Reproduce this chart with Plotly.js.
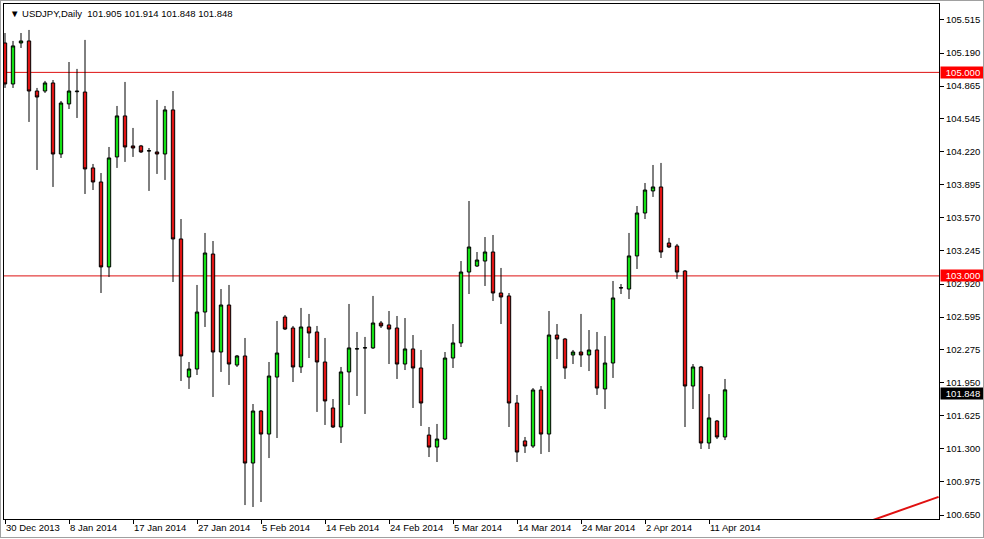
<!DOCTYPE html>
<html>
<head>
<meta charset="utf-8">
<script src="https://cdn.plot.ly/plotly-3.0.1.min.js"></script>
<style>
html,body{margin:0;padding:0;background:#fff;}
#wrap{position:relative;width:984px;height:539px;overflow:hidden;}
#chart{width:984px;height:539px;}
#frame{position:absolute;left:0;top:0;width:984px;height:538px;box-sizing:border-box;border:1px solid #a0a0a0;pointer-events:none;}
</style>
</head>
<body>
<div id="wrap"><div id="chart"></div><div id="frame"></div></div>
<script>
// USDJPY daily bars (MT4 broker with Sunday bars)
const dates = [
"2013-12-30","2013-12-31","2014-01-01","2014-01-02","2014-01-03","2014-01-05","2014-01-06","2014-01-07","2014-01-08","2014-01-09",
"2014-01-10","2014-01-12","2014-01-13","2014-01-14","2014-01-15","2014-01-16","2014-01-17","2014-01-19","2014-01-20","2014-01-21",
"2014-01-22","2014-01-23","2014-01-24","2014-01-26","2014-01-27","2014-01-28","2014-01-29","2014-01-30","2014-01-31","2014-02-02",
"2014-02-03","2014-02-04","2014-02-05","2014-02-06","2014-02-07","2014-02-09","2014-02-10","2014-02-11","2014-02-12","2014-02-13",
"2014-02-14","2014-02-16","2014-02-17","2014-02-18","2014-02-19","2014-02-20","2014-02-21","2014-02-23","2014-02-24","2014-02-25",
"2014-02-26","2014-02-27","2014-02-28","2014-03-02","2014-03-03","2014-03-04","2014-03-05","2014-03-06","2014-03-07","2014-03-09",
"2014-03-10","2014-03-11","2014-03-12","2014-03-13","2014-03-14","2014-03-16","2014-03-17","2014-03-18","2014-03-19","2014-03-20",
"2014-03-21","2014-03-23","2014-03-24","2014-03-25","2014-03-26","2014-03-27","2014-03-28","2014-03-30","2014-03-31","2014-04-01",
"2014-04-02","2014-04-03","2014-04-04","2014-04-06","2014-04-07","2014-04-08","2014-04-09","2014-04-10","2014-04-11","2014-04-13",
"2014-04-14"];

const opens = [
105.289,104.886,105.289,105.309,104.817,104.817,104.896,104.198,104.690,104.810,
104.807,104.061,103.923,103.088,104.169,104.572,104.277,104.277,104.228,104.218,
104.198,104.631,103.363,102.006,102.085,102.645,103.215,102.252,102.714,102.124,
102.213,101.161,101.672,101.446,102.006,102.596,102.488,102.105,102.498,102.449,
102.154,101.702,101.515,102.056,102.282,102.292,102.292,102.537,102.518,102.488,
102.134,102.282,102.095,101.436,101.318,101.397,102.193,102.341,103.038,103.097,
103.146,103.235,102.832,102.803,101.751,101.378,101.328,101.879,101.446,102.419,
102.380,102.223,102.252,102.223,102.272,101.889,102.144,102.881,102.871,103.196,
103.618,103.835,103.874,103.323,103.294,103.048,101.918,102.105,101.358,101.574,
101.417];

const highs = [
105.387,105.309,105.387,105.417,104.847,104.916,104.925,104.719,105.102,105.034,
105.319,104.100,104.011,104.267,104.670,104.906,104.454,104.287,104.257,104.729,
104.670,104.817,103.559,102.154,102.911,103.422,103.343,102.871,102.911,102.223,
102.390,101.741,101.682,102.154,102.557,102.616,102.508,102.685,102.626,102.508,
102.390,101.790,102.105,102.724,102.449,102.400,102.803,102.557,102.655,102.606,
102.586,102.419,102.272,101.515,101.545,102.252,102.527,103.146,103.736,103.235,
103.382,103.402,103.078,102.832,101.830,101.417,101.898,101.918,102.655,102.527,
102.390,102.272,102.626,102.468,102.449,102.409,102.950,102.920,103.422,103.687,
103.913,104.090,104.110,103.373,103.314,103.058,102.134,102.115,101.839,101.584,
101.987];

const lows = [
104.847,104.847,105.240,104.513,104.041,104.798,103.874,104.159,104.640,104.552,
103.805,103.844,102.832,102.989,104.061,104.120,104.169,104.208,103.835,104.002,
103.943,102.940,101.967,101.889,102.026,102.498,101.810,102.056,101.928,102.105,
100.748,100.729,100.778,101.210,101.407,102.468,101.957,102.046,102.193,101.663,
101.535,101.505,101.358,101.731,101.820,101.643,102.282,102.488,102.134,101.987,
102.075,101.702,101.525,101.220,101.171,101.387,102.095,102.301,102.822,103.088,
102.901,102.753,102.527,101.515,101.171,101.260,101.309,101.250,101.269,102.183,
101.987,102.134,102.105,102.065,101.830,101.692,101.997,102.822,102.773,103.068,
103.559,103.776,103.176,103.274,102.970,101.515,101.692,101.299,101.299,101.397,
101.387];

const closes = [
104.886,105.260,105.309,104.817,104.758,104.896,104.198,104.699,104.817,104.815,
104.051,103.923,103.088,104.159,104.572,104.267,104.257,104.218,104.230,104.198,
104.631,103.363,102.213,102.085,102.645,103.225,102.252,102.714,102.134,102.213,
101.161,101.672,101.446,102.016,102.242,102.478,102.105,102.498,102.439,102.154,
101.771,101.515,102.056,102.292,102.284,102.294,102.537,102.508,102.478,102.134,
102.282,102.095,101.751,101.318,101.397,102.193,102.341,103.038,103.284,103.156,
103.235,102.832,102.793,101.751,101.269,101.328,101.879,101.446,102.419,102.380,
102.095,102.252,102.223,102.272,101.898,102.144,102.783,102.884,103.196,103.618,
103.844,103.874,103.235,103.284,103.038,101.918,102.105,101.358,101.604,101.417,
101.880];

const xTickDates = ["2013-12-30","2014-01-08","2014-01-17","2014-01-27","2014-02-05","2014-02-14","2014-02-24","2014-03-05","2014-03-14","2014-03-24","2014-04-02","2014-04-11"];
const xTickLabels = ["30 Dec 2013","8 Jan 2014","17 Jan 2014","27 Jan 2014","5 Feb 2014","14 Feb 2014","24 Feb 2014","5 Mar 2014","14 Mar 2014","24 Mar 2014","2 Apr 2014","11 Apr 2014"];
const yTickVals = [105.515,105.190,104.865,104.545,104.220,103.895,103.570,103.245,102.920,102.595,102.275,101.950,101.625,101.300,100.975,100.650];

const levelLines = [105.000, 103.000];
const currentPrice = 101.848;
const headerText = "USDJPY,Daily  101.905 101.914 101.848 101.848";
// trendline anchors: [bar index, price]
const trendX = [108.5, 116.7];
const trendY = [100.601, 100.829];

const FONT = "Liberation Sans, Arial, sans-serif";
const GREEN = "#14e014";
const RED = "#e01414";

const trace = {
  type: "candlestick",
  x: dates, open: opens, high: highs, low: lows, close: closes,
  increasing: {fillcolor: GREEN, line: {color: "#000000", width: 1}},
  decreasing: {fillcolor: RED, line: {color: "#000000", width: 1}},
  whiskerwidth: 0,
  hoverinfo: "skip"
};

const shapes = levelLines.map(v => ({
  type: "line", xref: "paper", x0: 0, x1: 1, yref: "y", y0: v, y1: v,
  line: {color: "#dd1111", width: 1}, layer: "below"
}));
shapes.push({
  type: "line", xref: "x", yref: "y",
  x0: trendX[0], x1: trendX[1], y0: trendY[0], y1: trendY[1],
  line: {color: "#e01010", width: 2}
});

const annotations = levelLines.map(v => ({
  xref: "paper", x: 1, xanchor: "left", xshift: 1, yref: "y", y: v, yanchor: "middle",
  text: v.toFixed(3), showarrow: false, bgcolor: "#ff0000",
  font: {family: FONT, size: 9.5, color: "#ffffff"}, width: 42, height: 9, borderpad: 1
}));
annotations.push({
  xref: "paper", x: 1, xanchor: "left", xshift: 1, yref: "y", y: currentPrice, yanchor: "middle",
  text: currentPrice.toFixed(3), showarrow: false, bgcolor: "#000000",
  font: {family: FONT, size: 9.5, color: "#ffffff"}, width: 42, height: 9, borderpad: 1
});
annotations.push({
  xref: "paper", x: 0.0043, xanchor: "left", yref: "paper", y: 0.9825, yanchor: "middle",
  text: "\u25BC " + headerText, showarrow: false,
  font: {family: FONT, size: 9.5, color: "#000000"}
});

const layout = {
  width: 984, height: 539,
  margin: {l: 4, r: 45, t: 4, b: 20, pad: 0},
  paper_bgcolor: "#ffffff", plot_bgcolor: "#ffffff",
  showlegend: false,
  boxgap: 0.4,
  font: {family: FONT, size: 9.5, color: "#000000"},
  xaxis: {
    type: "category",
    range: [-0.125, 116.75],
    rangeslider: {visible: false},
    showgrid: false, zeroline: false,
    showline: true, linecolor: "#000000", linewidth: 1, mirror: true,
    ticks: "outside", ticklen: 4, tickcolor: "#000000", tickwidth: 1,
    tickvals: xTickDates, ticktext: xTickLabels,
    ticklabelposition: "outside right",
    tickfont: {family: FONT, size: 9.5, color: "#000000"},
    fixedrange: true
  },
  yaxis: {
    side: "right",
    range: [100.611, 105.672],
    showgrid: false, zeroline: false,
    showline: true, linecolor: "#000000", linewidth: 1, mirror: true,
    ticks: "outside", ticklen: 4, tickcolor: "#000000", tickwidth: 1,
    tickvals: yTickVals, ticktext: yTickVals.map(v => v.toFixed(3)),
    tickfont: {family: FONT, size: 9.5, color: "#000000"},
    fixedrange: true
  },
  shapes: shapes,
  annotations: annotations
};

Plotly.newPlot("chart", [trace], layout, {displayModeBar: false, staticPlot: true});
</script>
</body>
</html>
